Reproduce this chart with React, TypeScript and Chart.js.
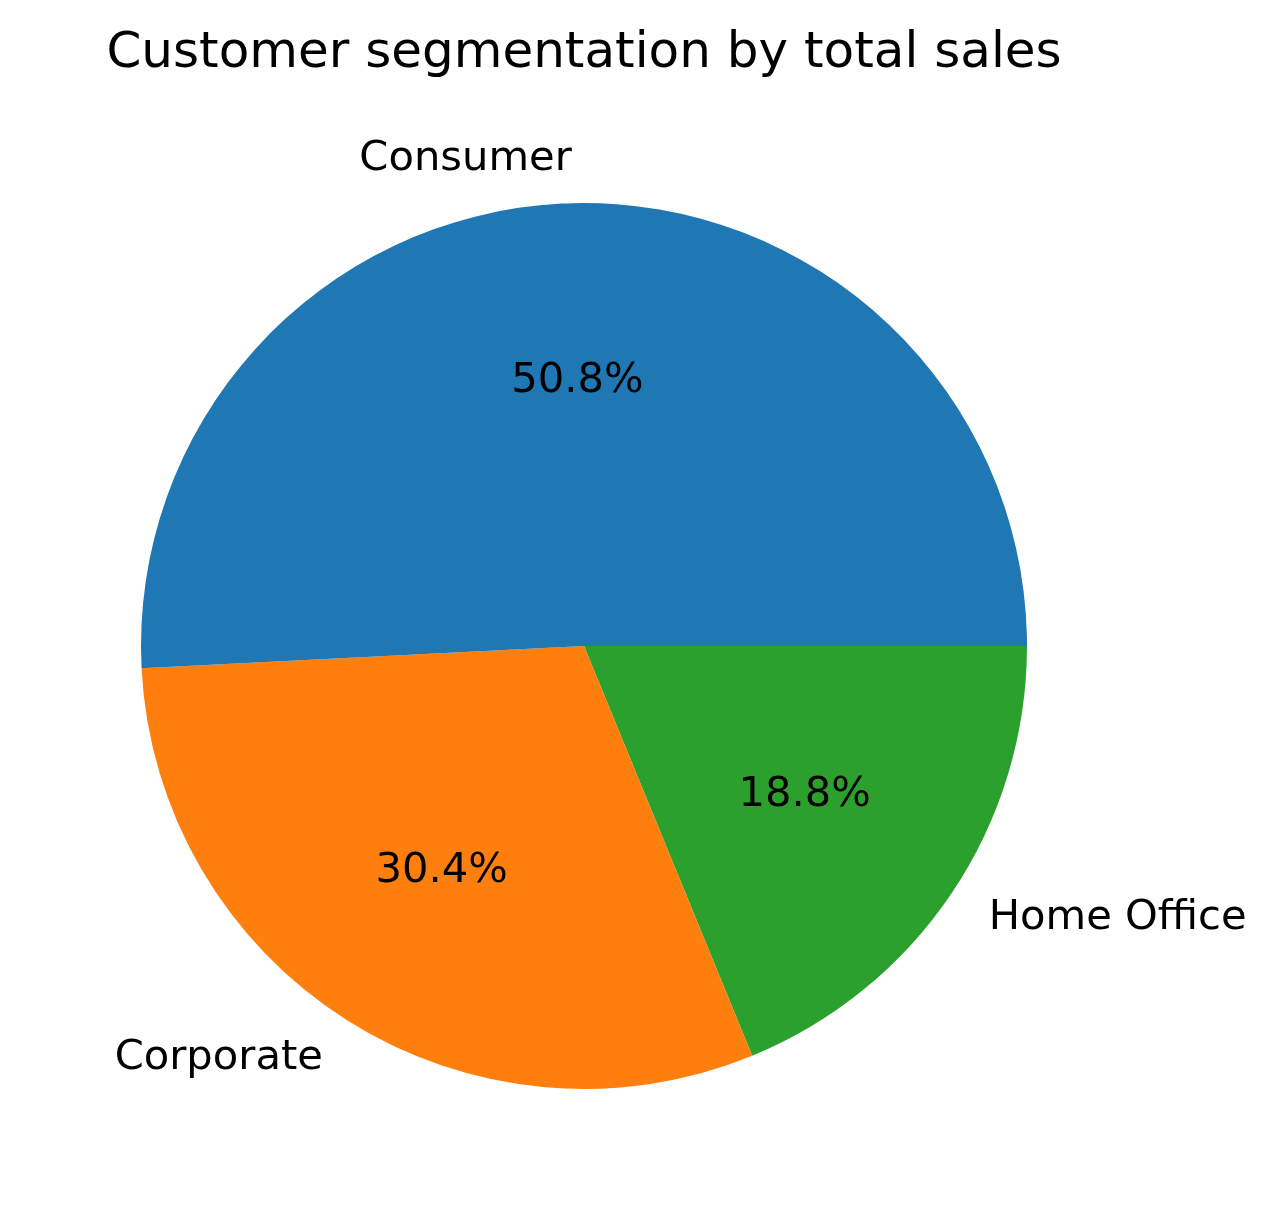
import React, { useEffect, useRef } from "react";
import { Chart, registerables } from "chart.js";

Chart.register(...registerables);

const title = "Customer segmentation by total sales";
// matplotlib draws counter-clockwise from 3 o'clock; Chart.js draws clockwise,
// so the categories are listed in reverse order.
const categories = ["Home Office", "Corporate", "Consumer"];
const shares = [18.8, 30.4, 50.8];
const colors = ["#2ca02c", "#ff7f0e", "#1f77b4"];

const FONT = "'DejaVu Sans', sans-serif";
const LABEL_SIZE = 41.67;
const TITLE_SIZE = 50;

const labelPlugin = {
  id: "pieLabels",
  afterDraw(chart: any) {
    const ctx = chart.ctx as CanvasRenderingContext2D;
    const meta = chart.getDatasetMeta(0);
    const total = shares.reduce((a, b) => a + b, 0);
    ctx.save();
    ctx.fillStyle = "#000";
    ctx.textBaseline = "alphabetic";
    meta.data.forEach((arc: any, i: number) => {
      const { x, y, startAngle, endAngle, outerRadius } = arc.getProps(
        ["x", "y", "startAngle", "endAngle", "outerRadius"],
        true
      );
      const mid = (startAngle + endAngle) / 2;
      const cx = Math.cos(mid);
      const cy = Math.sin(mid);
      ctx.font = `${LABEL_SIZE}px ${FONT}`;
      const off = 0.276 * LABEL_SIZE;
      // outer label
      const lx = x + cx * outerRadius * 1.1;
      const ly = y + cy * outerRadius * 1.1;
      ctx.textAlign = cx > 0 ? "left" : "right";
      ctx.fillText(categories[i], lx, ly + off);
      // percentage
      const px = x + cx * outerRadius * 0.6;
      const py = y + cy * outerRadius * 0.6;
      ctx.textAlign = "center";
      const pct = ((shares[i] / total) * 100).toFixed(1) + "%";
      ctx.fillText(pct, px, py + off);
    });
    // title
    const arc0 = meta.data[0];
    ctx.font = `${TITLE_SIZE}px ${FONT}`;
    ctx.textAlign = "center";
    ctx.fillText(title, arc0.x, 67);
    ctx.restore();
  },
};

export default function App() {
  const ref = useRef<HTMLCanvasElement | null>(null);
  useEffect(() => {
    if (!ref.current) return;
    const chart = new Chart(ref.current, {
      type: "pie",
      data: {
        labels: categories,
        datasets: [
          {
            data: shares,
            backgroundColor: colors,
            borderWidth: 0,
          },
        ],
      },
      options: {
        responsive: false,
        animation: false,
        rotation: 90,
        layout: { padding: { left: 141, right: 251, top: 203, bottom: 142 } },
        plugins: {
          legend: { display: false },
          title: { display: false },
          tooltip: { enabled: false },
        },
      },
      plugins: [labelPlugin],
    });
    return () => chart.destroy();
  }, []);
  return (
    <div
      style={{
        position: "fixed",
        left: 0,
        top: 0,
        width: 1278,
        height: 1231,
        background: "#fff",
      }}
    >
      <canvas ref={ref} width={1278} height={1231} />
    </div>
  );
}
